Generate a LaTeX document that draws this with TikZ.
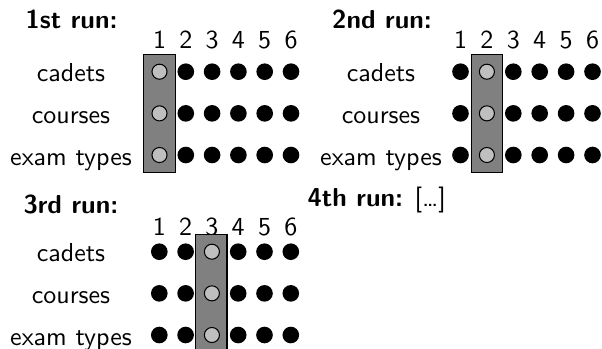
\documentclass[tikz,border=0pt]{standalone}
\usepackage{fontspec}
\begin{document}
\begin{tikzpicture}[x=0.385pt,y=-0.385pt,font=\sffamily,
  lbl/.style={anchor=base,inner sep=0pt},
  num/.style={anchor=base,inner sep=0pt},
  ttl/.style={anchor=base west,inner sep=0pt,font=\sffamily\bfseries},
  dot/.style={circle,fill=black,inner sep=0pt,minimum size=6.4pt},
  light/.style={circle,draw=black,fill=black!25,line width=0.4pt,inner sep=0pt,minimum size=5.8pt},
  band/.style={draw=black,fill=black!50,line width=0.4pt,inner sep=0pt,minimum width=12.1pt,minimum height=45.2pt}]
\useasboundingbox (0,0) rectangle (602,348);
% ---------- panel 1
\node[ttl] (t1) at (25,28) {1st run:};
\foreach \c in {1,...,6} \node[num] (na-\c) at ({159.5+26.3*(\c-1)},48) {\c};
\foreach \lab [count=\r] in {cadets,courses,exam types}
  \node[lbl] (la-\r) at (71,{81.7+41.65*(\r-1)}) {\lab};
\node[band] (ba) at (159.5,113.5) {};
\foreach \r in {1,2,3} \foreach \c in {1,...,6} {
  \def\st{dot}\ifnum\c=1 \def\st{light}\fi
  \node[\st] (da-\r-\c) at ({159.5+26.3*(\c-1)},{71.7+41.65*(\r-1)}) {};
}
% ---------- panel 2
\node[ttl] (t2) at (331.7,28) {2nd run:};
\foreach \c in {1,...,6} \node[num] (nb-\c) at ({460.5+26.4*(\c-1)},48) {\c};
\foreach \lab [count=\r] in {cadets,courses,exam types}
  \node[lbl] (lb-\r) at (381,{81.7+41.65*(\r-1)}) {\lab};
\node[band] (bb) at (486.9,113.5) {};
\foreach \r in {1,2,3} \foreach \c in {1,...,6} {
  \def\st{dot}\ifnum\c=2 \def\st{light}\fi
  \node[\st] (db-\r-\c) at ({460.5+26.4*(\c-1)},{71.7+41.65*(\r-1)}) {};
}
% ---------- panel 3
\node[ttl] (t3) at (23,213) {3rd run:};
\foreach \c in {1,...,6} \node[num] (nc-\c) at ({159.3+26.3*(\c-1)},235) {\c};
\foreach \lab [count=\r] in {cadets,courses,exam types}
  \node[lbl] (lc-\r) at (71,{261.7+41.65*(\r-1)}) {\lab};
\node[band] (bc) at (211.3,293.5) {};
\foreach \r in {1,2,3} \foreach \c in {1,...,6} {
  \def\st{dot}\ifnum\c=3 \def\st{light}\fi
  \node[\st] (dc-\r-\c) at ({159.3+26.3*(\c-1)},{251.7+41.65*(\r-1)}) {};
}
% ---------- 4th run
\node[anchor=base west,inner sep=0pt] (t4) at (307,206) {\textbf{4th run:} [\ldots]};
\end{tikzpicture}
\end{document}
